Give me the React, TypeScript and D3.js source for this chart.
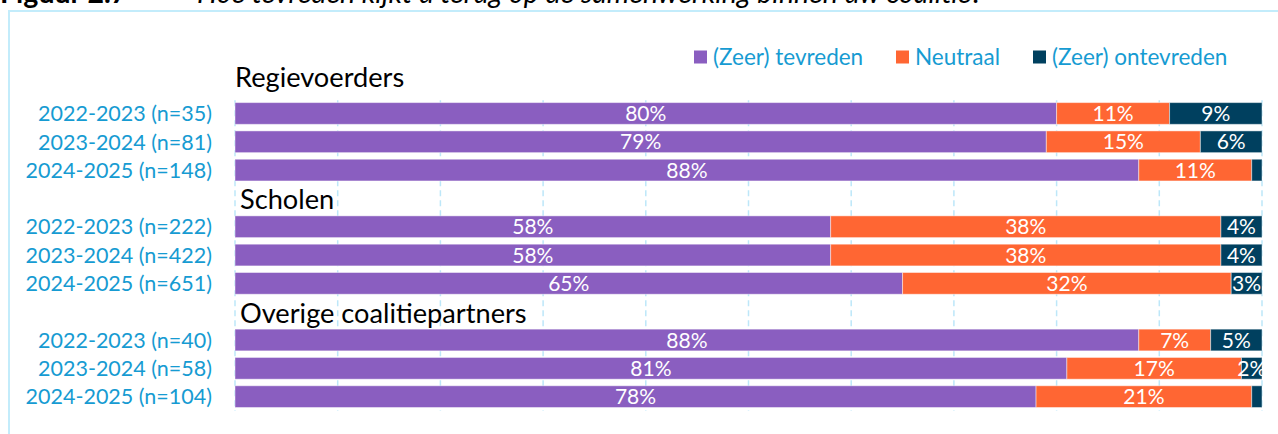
import React from "react";
import * as d3 from "d3";

const groups = ["Regievoerders", "Scholen", "Overige coalitiepartners"];
const periods = ["2022-2023", "2023-2024", "2024-2025"];
const nRegievoerders = [35, 81, 148];
const nScholen = [222, 422, 651];
const nOverige = [40, 58, 104];

const tevreden = [80, 79, 88, 58, 58, 65, 88, 81, 78];
const neutraal = [11, 15, 11, 38, 38, 32, 7, 17, 21];
const ontevreden = [9, 6, 1, 4, 4, 3, 5, 2, 1];

const seriesNames = ["(Zeer) tevreden", "Neutraal", "(Zeer) ontevreden"];
const seriesColors = ["#8A5EC0", "#FF6633", "#00405F"];
const xTicks = [0, 10, 20, 30, 40, 50, 60, 70, 80, 90, 100];

const titleNumber = "Figuur 2.7";
const titleText = "Hoe tevreden kijkt u terug op de samenwerking binnen uw coalitie?";

const W = 1278;
const H = 434;
const FONT = "Lato, 'Open Sans', sans-serif";
const LABEL_BLUE = "#169BD2";
const GRID = "#BDE7F9";

export default function App() {
  const nAll = [nRegievoerders, nScholen, nOverige];
  const rows = nAll.flatMap((ns, g) =>
    ns.map((n, i) => ({
      key: `r${g}-${i}`,
      label: `${periods[i]} (n=${n})`,
      idx: g * 3 + i,
    }))
  );
  // slots: three bars, header, three bars, header, three bars
  const slotKeys: string[] = [];
  rows.forEach((r, i) => {
    if (i === 3) slotKeys.push("h1");
    if (i === 6) slotKeys.push("h2");
    slotKeys.push(r.key);
  });

  const plotTop = 99.3;
  const plotBottom = 410.8;
  const y = d3
    .scaleBand<string>()
    .domain(slotKeys)
    .range([plotTop, plotBottom])
    .paddingInner(0.233)
    .paddingOuter(0.1165);
  const x = d3.scaleLinear().domain([0, 100]).range([235, 1262]);

  const stack = rows.map((r) => {
    const vals = [tevreden[r.idx], neutraal[r.idx], ontevreden[r.idx]];
    let acc = 0;
    return vals.map((v, s) => {
      const seg = { x0: acc, x1: acc + v, v, s };
      acc += v;
      return seg;
    });
  });

  const headerY = [
    plotTop - 12.3,
    (y("h1") as number) + y.bandwidth() / 2 + 11,
    (y("h2") as number) + y.bandwidth() / 2 + 11.4,
  ];
  const headerX = [x(0), x(0) + 5, x(0) + 5];

  const legendX = [694, 896, 1033];

  return (
    <svg
      width={W}
      height={H}
      style={{ position: "absolute", left: 0, top: 0, background: "#fff" }}
      fontFamily={FONT}
    >
      {/* figure caption, cut at top as in the source */}
      <text x={0} y={3} fontSize={28.5} fontWeight={700} fill="#000">
        {titleNumber}
      </text>
      <text x={197} y={3} fontSize={28.5} fontStyle="italic" fill="#000">
        {titleText}
      </text>

      {/* frame */}
      <rect x={9} y={11} width={1400} height={600} fill="none" stroke="#C3ECFB" strokeWidth={2} />

      {/* legend */}
      {seriesNames.map((name, i) => (
        <g key={name}>
          <rect x={legendX[i]} y={50.5} width={13} height={13} fill={seriesColors[i]} />
          <text x={legendX[i] + 19} y={57} dy="0.35em" fontSize={22.5} fill={LABEL_BLUE}>
            {name}
          </text>
        </g>
      ))}

      {/* gridlines */}
      {xTicks.map((t) => (
        <line
          key={t}
          x1={x(t)}
          x2={x(t)}
          y1={plotTop + 1}
          y2={plotBottom}
          stroke={GRID}
          strokeWidth={1.5}
          strokeDasharray="6 4"
        />
      ))}

      {/* group headers */}
      {groups.map((g, i) => (
        <text key={g} x={headerX[i]} y={headerY[i]} fontSize={27.2} fill="#000">
          {g}
        </text>
      ))}

      {/* bars */}
      {rows.map((r, ri) => {
        const y0 = y(r.key) as number;
        const bh = y.bandwidth();
        return (
          <g key={r.key}>
            <text
              x={212}
              y={y0 + bh / 2}
              dy="0.36em"
              textAnchor="end"
              fontSize={21.5}
              fill={LABEL_BLUE}
            >
              {r.label}
            </text>
            {stack[ri].map((seg) => (
              <rect
                key={seg.s}
                x={x(seg.x0)}
                y={y0}
                width={x(seg.x1) - x(seg.x0)}
                height={bh}
                fill={seriesColors[seg.s]}
                stroke="#ffffff"
                strokeOpacity={0.45}
                strokeWidth={1}
              />
            ))}
            {stack[ri].map((seg) =>
              seg.v > 1 ? (
                <text
                  key={`t${seg.s}`}
                  x={(x(seg.x0) + x(seg.x1)) / 2}
                  y={y0 + bh / 2}
                  dy="0.36em"
                  textAnchor="middle"
                  fontSize={21}
                  fill="#fff"
                >
                  {`${seg.v}%`}
                </text>
              ) : null
            )}
          </g>
        );
      })}
    </svg>
  );
}
